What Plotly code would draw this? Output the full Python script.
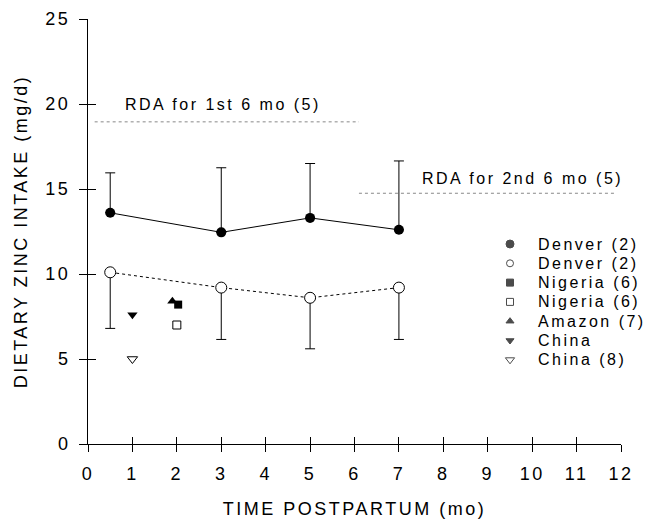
import plotly.graph_objects as go

# ---- data ----
months_denver = [0.5, 3, 5, 7]
denver_a_mean = [13.6, 12.45, 13.3, 12.6]
denver_a_upper = [15.95, 16.25, 16.5, 16.65]   # top of error bar
denver_b_mean = [10.1, 9.2, 8.6, 9.2]
denver_b_lower = [6.8, 6.15, 5.6, 6.15]        # bottom of error bar

nigeria_a_x, nigeria_a_y = [2.03], [8.2]
nigeria_b_x, nigeria_b_y = [2.0], [7.0]
amazon_x, amazon_y = [1.9], [8.4]
china_a_x, china_a_y = [1.0], [7.6]
china_b_x, china_b_y = [1.0], [5.0]

rda_values = [18.95, 14.75]
rda_x_start = [0.15, 6.1]
rda_x_end = [6.1, 11.85]
rda_labels = ["RDA for 1st 6 mo (5)", "RDA for 2nd 6 mo (5)"]
rda_label_x = [0.78, 7.47]
rda_label_y = [19.95, 15.6]

legend_labels = ["Denver (2)", "Denver (2)", "Nigeria (6)", "Nigeria (6)",
                 "Amazon (7)", "China", "China (8)"]
legend_symbols = ["circle", "circle", "square", "square",
                  "triangle-up", "triangle-down", "triangle-down"]
legend_fill = ["black", "white", "black", "white", "black", "black", "white"]
legend_size = [8, 7, 7, 7, 7, 7, 8]

x_ticks = list(range(0, 13))
y_ticks = [0, 5, 10, 15, 20, 25]

FONT = "Liberation Sans, Arial, Helvetica, sans-serif"

fig = go.Figure()

# RDA lines
for v, xs, xe in zip(rda_values, rda_x_start, rda_x_end):
    fig.add_trace(go.Scatter(x=[xs, xe], y=[v, v], mode="lines",
                             line=dict(color="#888888", width=1, dash="dot"),
                             showlegend=False, hoverinfo="skip"))

# Denver filled series (upper error bars)
fig.add_trace(go.Scatter(
    x=months_denver, y=denver_a_mean, mode="lines+markers",
    line=dict(color="black", width=1),
    marker=dict(symbol="circle", size=10, color="black"),
    error_y=dict(type="data", symmetric=False,
                 array=[u - m for u, m in zip(denver_a_upper, denver_a_mean)],
                 arrayminus=[0] * len(denver_a_mean),
                 color="black", thickness=1, width=5),
    showlegend=False, cliponaxis=False))

# Denver open series (lower error bars)
fig.add_trace(go.Scatter(
    x=months_denver, y=denver_b_mean, mode="lines+markers",
    line=dict(color="black", width=1, dash="3px,3px"),
    marker=dict(symbol="circle", size=11, color="white",
                line=dict(color="black", width=1)),
    error_y=dict(type="data", symmetric=False,
                 array=[0] * len(denver_b_mean),
                 arrayminus=[m - l for m, l in zip(denver_b_mean, denver_b_lower)],
                 color="black", thickness=1, width=5),
    showlegend=False, cliponaxis=False))

# other studies
fig.add_trace(go.Scatter(x=amazon_x, y=amazon_y, mode="markers",
                         marker=dict(symbol="triangle-up", size=9, color="black"),
                         showlegend=False))
fig.add_trace(go.Scatter(x=nigeria_a_x, y=nigeria_a_y, mode="markers",
                         marker=dict(symbol="square", size=8, color="black"),
                         showlegend=False))
fig.add_trace(go.Scatter(x=nigeria_b_x, y=nigeria_b_y, mode="markers",
                         marker=dict(symbol="square", size=8, color="white",
                                     line=dict(color="black", width=1)),
                         showlegend=False))
fig.add_trace(go.Scatter(x=china_a_x, y=china_a_y, mode="markers",
                         marker=dict(symbol="triangle-down", size=9, color="black"),
                         showlegend=False))
fig.add_trace(go.Scatter(x=china_b_x, y=china_b_y, mode="markers",
                         marker=dict(symbol="triangle-down", size=9, color="white",
                                     line=dict(color="black", width=1)),
                         showlegend=False))

# RDA labels
for t, lx, ly in zip(rda_labels, rda_label_x, rda_label_y):
    fig.add_annotation(x=lx, y=ly, text=t, showarrow=False, xanchor="left",
                       align="left", yanchor="middle",
                       font=dict(size=16, color="black", family=FONT))

# invisible trace on the overlay axes that carry the inner half of the ticks
fig.add_trace(go.Scatter(x=[None], y=[None], xaxis="x2", yaxis="y2",
                         showlegend=False, hoverinfo="skip"))

# custom legend (drawn on a pixel-scaled hidden axis pair)
PLOT_W, PLOT_H = 533, 425
leg_x_sym, leg_x_txt = 422, 448
leg_top, leg_step = 200, 19.3
leg_y = [leg_top - i * leg_step for i in range(len(legend_labels))]
fig.add_trace(go.Scatter(
    x=[leg_x_sym] * len(legend_labels), y=leg_y, mode="markers",
    xaxis="x3", yaxis="y3",
    marker=dict(symbol=legend_symbols, size=legend_size, color=legend_fill,
                line=dict(color="black", width=1)),
    showlegend=False, hoverinfo="skip", cliponaxis=False))
for lab, yy in zip(legend_labels, leg_y):
    fig.add_annotation(x=leg_x_txt, y=yy, xref="x3", yref="y3", text=lab,
                       showarrow=False, xanchor="left", align="left",
                       yanchor="middle",
                       font=dict(size=16, color="black", family=FONT))

axis_common = dict(showgrid=False, zeroline=False, linecolor="black", linewidth=1,
                   tickcolor="black", tickwidth=1, automargin=False,
                   tickfont=dict(size=18, color="black", family=FONT))
overlay_common = dict(showticklabels=False, showline=False, showgrid=False,
                      zeroline=False, tickcolor="black", tickwidth=1,
                      automargin=False)

fig.update_layout(
    width=647, height=521,
    margin=dict(l=88, r=26, t=19, b=77),
    paper_bgcolor="white", plot_bgcolor="white",
    font=dict(family=FONT, color="black"),
    showlegend=False,
    xaxis=dict(range=[0, 12], tickvals=x_ticks, ticks="outside", ticklen=7,
               showline=True, ticklabelstandoff=6,
               title=dict(text="TIME POSTPARTUM (mo)", standoff=19,
                          font=dict(size=18, family=FONT)),
               **axis_common),
    yaxis=dict(range=[0, 25], tickvals=y_ticks, ticks="outside", ticklen=8,
               showline=True, ticklabelstandoff=5,
               title=dict(text="DIETARY ZINC INTAKE (mg/d)", standoff=18,
                          font=dict(size=18, family=FONT)),
               **axis_common),
    xaxis2=dict(range=[0, 12], tickvals=x_ticks, ticks="inside", ticklen=7,
                overlaying="x", anchor="y2", side="bottom", **overlay_common),
    yaxis2=dict(range=[0, 25], tickvals=y_ticks, ticks="inside", ticklen=8,
                overlaying="y", anchor="x2", side="left", **overlay_common),
    xaxis3=dict(range=[0, PLOT_W], overlaying="x", anchor="y3", visible=False,
                automargin=False),
    yaxis3=dict(range=[0, PLOT_H], overlaying="y", anchor="x3", visible=False,
                automargin=False),
)

# page without body margin; the original typesetting uses widely
# letter-spaced Helvetica
page_css = ("document.body.style.margin='0';"
            "var s=document.createElement('style');"
            "s.innerHTML='body{margin:0;} .js-plotly-plot svg text{letter-spacing:2.5px;}';"
            "document.head.appendChild(s);")

fig.write_html("out.html", post_script=page_css,
               config={"displayModeBar": False})
